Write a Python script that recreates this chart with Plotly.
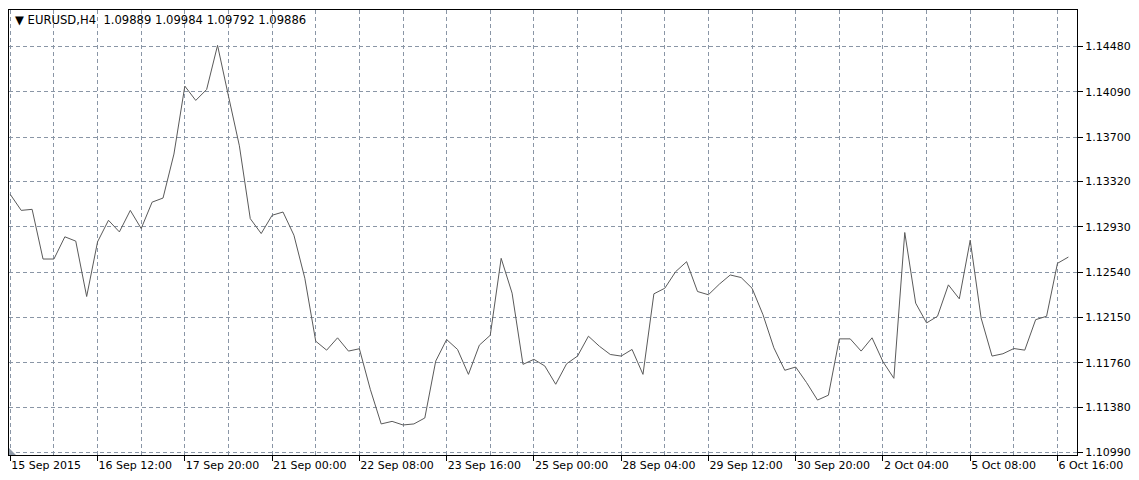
import plotly.graph_objects as go

# H4 close prices, one per bar
close = [
    1.13208, 1.13071, 1.13080, 1.12653, 1.12653, 1.12844, 1.12807, 1.12331,
    1.12801, 1.12986, 1.12886, 1.13071, 1.12915, 1.13142, 1.13177, 1.13555,
    1.14139, 1.14016, 1.14110, 1.14489, 1.14053, 1.13626, 1.13000, 1.12872,
    1.13029, 1.13057, 1.12858, 1.12488, 1.11947, 1.11870, 1.11976, 1.11862,
    1.11882, 1.11534, 1.11236, 1.11258, 1.11227, 1.11236, 1.11287, 1.11776,
    1.11961, 1.11876, 1.11662, 1.11913, 1.11998, 1.12659, 1.12360, 1.11748,
    1.11791, 1.11734, 1.11577, 1.11753, 1.11819, 1.11990, 1.11904, 1.11833,
    1.11819, 1.11876, 1.11662, 1.12354, 1.12402, 1.12545, 1.12630, 1.12374,
    1.12346, 1.12437, 1.12516, 1.12494, 1.12402, 1.12175, 1.11890, 1.11697,
    1.11725, 1.11591, 1.11441, 1.11483, 1.11967, 1.11967, 1.11862, 1.11976,
    1.11771, 1.11628, 1.12881, 1.12274, 1.12104, 1.12161, 1.12431, 1.12311,
    1.12815, 1.12146, 1.11819, 1.11839, 1.11884, 1.11870, 1.12132, 1.12161,
    1.12616, 1.12670,
]

# time-axis labels and the bar index each one belongs to
time_labels = [
    "15 Sep 2015", "16 Sep 12:00", "17 Sep 20:00", "21 Sep 00:00",
    "22 Sep 08:00", "23 Sep 16:00", "25 Sep 00:00", "28 Sep 04:00",
    "29 Sep 12:00", "30 Sep 20:00", "2 Oct 04:00", "5 Oct 08:00",
    "6 Oct 16:00",
]
label_bars = [0, 8, 16, 24, 32, 40, 48, 56, 64, 72, 80, 88, 96]

# price-axis labels (shown with 5 decimals)
price_labels = ["1.14480", "1.14090", "1.13700", "1.13320", "1.12930",
                "1.12540", "1.12150", "1.11760", "1.11380", "1.10990"]
price_ticks = [float(v) for v in price_labels]

header = "\u25BC EURUSD,H4  1.09889 1.09984 1.09792 1.09886"

bars = list(range(len(close)))

GRID = "#8a96a6"
FONT = "DejaVu Sans"

fig = go.Figure()
fig.add_trace(go.Scatter(
    x=bars, y=close, mode="lines",
    line=dict(color="#5a5a5a", width=1),
    hoverinfo="skip", showlegend=False,
))

fig.update_layout(
    width=1139, height=480,
    margin=dict(l=8, r=54, t=10, b=22),
    paper_bgcolor="white", plot_bgcolor="white",
    font=dict(family=FONT, size=11, color="black"),
    showlegend=False,
)

fig.update_xaxes(
    range=[-0.12, 97.79],
    tickmode="array", tickvals=label_bars, ticktext=time_labels,
    ticklabelposition="outside right",
    ticks="outside", ticklen=5, tickcolor="black", tickwidth=1,
    showgrid=True, gridcolor=GRID, griddash="4px,3px", gridwidth=1,
    minor=dict(tickmode="linear", tick0=0, dtick=4, showgrid=True,
               gridcolor=GRID, griddash="4px,3px", gridwidth=1, ticks=""),
    showline=True, linecolor="black", linewidth=1, mirror=True,
    zeroline=False, tickfont=dict(family=FONT, size=11, color="black"),
)

fig.update_yaxes(
    side="right",
    range=[1.10969, 1.14793],
    tickmode="array", tickvals=price_ticks, tickformat=".5f",
    ticks="outside", ticklen=5, tickcolor="black", tickwidth=1,
    showgrid=True, gridcolor=GRID, griddash="4px,3px", gridwidth=1,
    showline=True, linecolor="black", linewidth=1, mirror=True,
    zeroline=False, tickfont=dict(family=FONT, size=11, color="black"),
)

fig.add_annotation(
    xref="paper", yref="paper", x=0.004, y=0.978,
    xanchor="left", yanchor="middle", showarrow=False,
    text=header, font=dict(family=FONT, size=11.6, color="black"),
)

# small corner marker at the bottom-left of the chart
fig.add_shape(
    type="path", xref="paper", yref="paper",
    path="M 0 0 L 0 0.016 L 0.0065 0 Z",
    fillcolor="#8f9aa8", line=dict(width=0),
)

# let the 1139x480 figure fill the window exactly (no default page margin)
page_js = (
    "document.documentElement.style.overflow='hidden';"
    "document.documentElement.style.margin='0';"
    "document.body.style.margin='0';"
    "document.body.style.overflow='hidden';"
    "var d=document.getElementById('{plot_id}');"
    "d.style.display='block';d.parentNode.style.display='block';"
)
fig.write_html(
    "out.html",
    config={"displayModeBar": False, "responsive": False},
    post_script=page_js,
)
